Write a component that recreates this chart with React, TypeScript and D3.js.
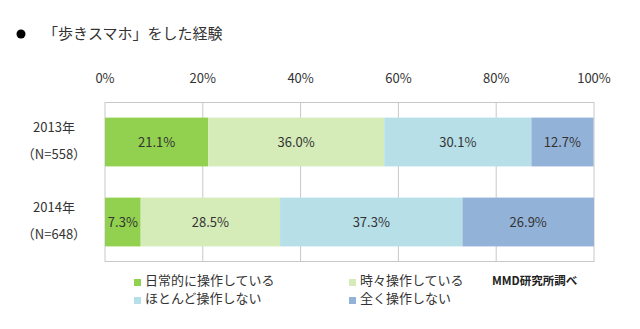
import React from "react";
import * as d3 from "d3";

const title = "「歩きスマホ」をした経験";
const categories = ["2013年", "2014年"];
const sampleLabels = ["（N=558）", "（N=648）"];
const seriesNames = ["日常的に操作している", "時々操作している", "ほとんど操作しない", "全く操作しない"];
const seriesColors = ["#92d050", "#d5ebb8", "#b7dfe8", "#93b2d8"];
const values2013 = [21.1, 36.0, 30.1, 12.7];
const values2014 = [7.3, 28.5, 37.3, 26.9];
const tickValues = [0, 20, 40, 60, 80, 100];
const source = "MMD研究所調べ";

const W = 640;
const H = 329;
const FONT = "'Noto Sans CJK JP', 'Noto Sans', sans-serif";

export default function App() {
  const rows = [values2013, values2014];
  const x = d3.scaleLinear().domain([0, 100]).range([105, 594]);
  const y = d3.scaleBand().domain(categories).range([102, 262]).paddingInner(0.39).paddingOuter(0.195);
  const stacked = rows.map((vals) => {
    let acc = 0;
    return vals.map((v) => {
      const s = acc;
      acc += v;
      return { s, e: acc, v };
    });
  });
  const legendPos = [
    [137, 280],
    [352, 280],
    [137, 298],
    [352, 298],
  ];
  return (
    <svg width={W} height={H} style={{ position: "absolute", left: 0, top: 0, background: "#fff" }} fontFamily={FONT}>
      <rect width={W} height={H} fill="#fff" />
      <circle cx={21} cy={34} r={4.5} fill="#000" />
      <text x={43} y={39} fontSize={15} fill="#333">{title}</text>
      {tickValues.map((t) => (
        <text key={t} x={x(t)} y={83} fontSize={13} fill="#333" textAnchor="middle">{t}%</text>
      ))}
      {tickValues.map((t) => (
        <line key={"g" + t} x1={x(t)} x2={x(t)} y1={102} y2={262} stroke="#c8c8c8" strokeWidth={1} />
      ))}
      <line x1={105} x2={594} y1={102.5} y2={102.5} stroke="#c8c8c8" />
      <line x1={105} x2={594} y1={261.5} y2={261.5} stroke="#c8c8c8" />
      {categories.map((c, i) => {
        const by = y(c)!;
        const bh = y.bandwidth();
        return (
          <g key={c}>
            <text x={54} y={by + bh / 2 - 10} fontSize={13} fill="#333" textAnchor="middle">{c}</text>
            <text x={54} y={by + bh / 2 + 17} fontSize={13} fill="#333" textAnchor="middle">{sampleLabels[i]}</text>
            {stacked[i].map((seg, j) => (
              <g key={j}>
                <rect x={x(seg.s)} y={by} width={x(seg.e) - x(seg.s)} height={bh} fill={seriesColors[j]} />
                <text x={(x(seg.s) + x(seg.e)) / 2} y={by + bh / 2 + 5} fontSize={13} fill="#333" textAnchor="middle">
                  {seg.v.toFixed(1)}%
                </text>
              </g>
            ))}
          </g>
        );
      })}
      {seriesNames.map((n, i) => (
        <g key={n}>
          <rect x={legendPos[i][0] - 3} y={legendPos[i][1] - 1} width={7} height={7} fill={seriesColors[i]} />
          <text x={legendPos[i][0] + 8} y={legendPos[i][1] + 5} fontSize={13} fill="#333">{n}</text>
        </g>
      ))}
      <text x={492} y={285} fontSize={11.5} fontWeight="bold" fill="#222">{source}</text>
    </svg>
  );
}
